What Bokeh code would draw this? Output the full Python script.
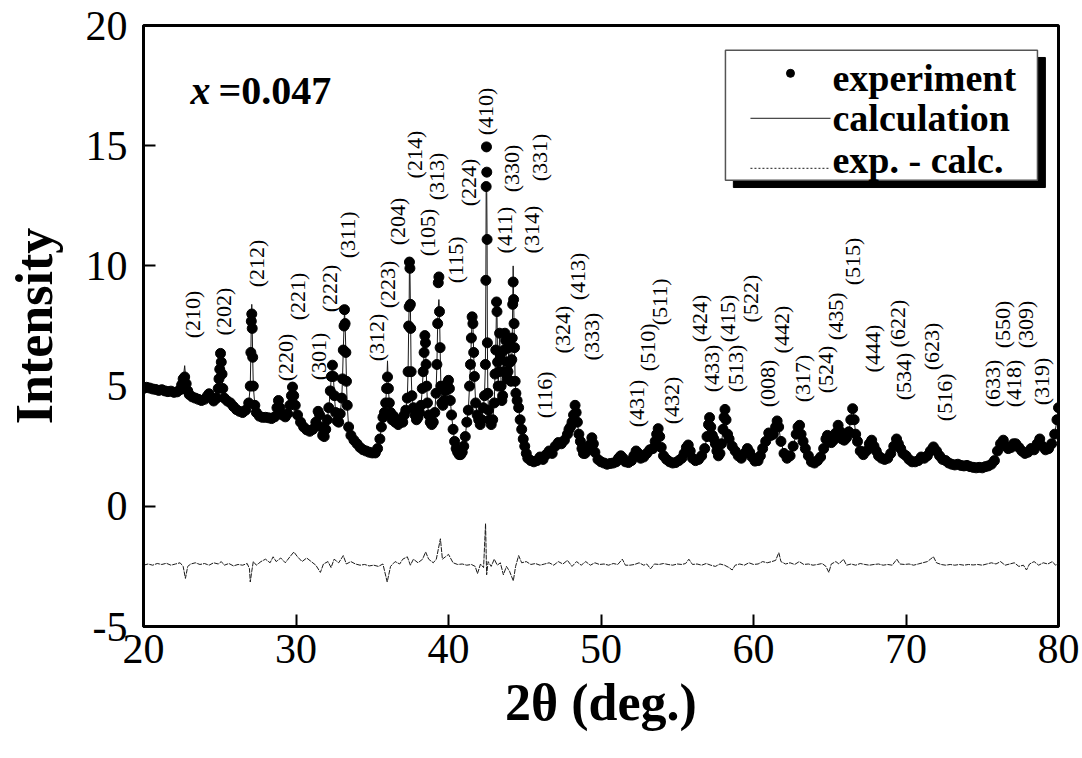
import numpy as np
from bokeh.plotting import figure
from bokeh.models import Range1d, FixedTicker, Label
from bokeh.core.properties import value
from bokeh.embed import file_html
from bokeh.resources import INLINE

# ---------------- data ----------------
# experimental pattern: (2theta, intensity)
exp_points = [
    (20.0, 4.90), (20.2, 4.95), (20.4, 4.92), (20.6, 4.88), (20.8, 4.86), (21.0, 4.82),
    (21.2, 4.85), (21.4, 4.80), (21.6, 4.77), (21.8, 4.79), (22.0, 4.74), (22.2, 4.76),
    (22.4, 4.85), (22.5, 5.05), (22.6, 5.30), (22.7, 5.38), (22.8, 5.10), (22.9, 4.80),
    (23.0, 4.65), (23.2, 4.55), (23.4, 4.50), (23.6, 4.45), (23.8, 4.40), (24.0, 4.45),
    (24.2, 4.60), (24.3, 4.68), (24.4, 4.55), (24.6, 4.38), (24.8, 4.50), (24.9, 4.90),
    (24.95, 5.30), (25.0, 5.70), (25.05, 6.36), (25.1, 6.00), (25.15, 5.50), (25.2, 4.90),
    (25.3, 4.50), (25.5, 4.38), (25.7, 4.30), (25.9, 4.15), (26.1, 4.02), (26.3, 3.95),
    (26.5, 3.90), (26.7, 4.00), (26.9, 4.30), (27.0, 5.00), (27.04, 6.40), (27.07, 7.70),
    (27.1, 8.00), (27.13, 7.40), (27.16, 6.20), (27.2, 5.00), (27.3, 4.20), (27.4, 3.90),
    (27.6, 3.75), (27.8, 3.70), (28.0, 3.70), (28.2, 3.68), (28.4, 3.65), (28.6, 3.72),
    (28.75, 4.10), (28.85, 4.40), (28.95, 4.10), (29.1, 3.80), (29.3, 3.72), (29.45, 3.85),
    (29.6, 4.20), (29.7, 4.60), (29.77, 4.96), (29.85, 4.60), (29.95, 4.20), (30.1, 3.80),
    (30.3, 3.50), (30.5, 3.30), (30.7, 3.18), (30.9, 3.12), (31.1, 3.20), (31.3, 3.50),
    (31.45, 3.95), (31.55, 3.80), (31.65, 3.30), (31.75, 2.95), (31.85, 2.90), (31.95, 3.20),
    (32.05, 3.60), (32.15, 4.10), (32.25, 4.80), (32.32, 5.40), (32.39, 5.87), (32.45, 5.40),
    (32.52, 4.60), (32.6, 3.90), (32.7, 3.55), (32.8, 3.50), (32.9, 3.85), (33.0, 4.50),
    (33.05, 5.30), (33.1, 6.50), (33.15, 7.50), (33.18, 8.18), (33.22, 7.60), (33.27, 6.40),
    (33.31, 5.20), (33.36, 4.20), (33.45, 3.30), (33.6, 2.95), (33.8, 2.75), (34.0, 2.60),
    (34.2, 2.45), (34.4, 2.35), (34.6, 2.30), (34.8, 2.25), (35.0, 2.22), (35.2, 2.22),
    (35.35, 2.40), (35.5, 2.80), (35.6, 3.30), (35.7, 3.70), (35.8, 3.90), (35.88, 4.30),
    (35.94, 4.90), (36.0, 5.38), (36.06, 4.90), (36.12, 4.30), (36.2, 3.90), (36.3, 3.60),
    (36.4, 3.75), (36.5, 3.50), (36.6, 3.60), (36.7, 3.40), (36.8, 3.50), (36.9, 3.60),
    (37.0, 3.50), (37.1, 3.80), (37.2, 4.00), (37.3, 4.50), (37.35, 5.60), (37.39, 7.50),
    (37.42, 8.30), (37.44, 10.16), (37.47, 9.90), (37.5, 8.40), (37.52, 7.40), (37.55, 5.60),
    (37.6, 4.60), (37.7, 4.10), (37.8, 3.80), (37.9, 3.60), (38.0, 3.70), (38.1, 3.90),
    (38.2, 4.20), (38.28, 4.90), (38.34, 5.60), (38.4, 6.40), (38.45, 7.10), (38.49, 6.80),
    (38.53, 5.90), (38.57, 5.00), (38.62, 4.30), (38.7, 3.80), (38.8, 3.50), (38.9, 3.40),
    (39.0, 3.50), (39.1, 3.90), (39.18, 4.70), (39.24, 5.90), (39.29, 7.60), (39.33, 9.30),
    (39.37, 9.54), (39.41, 8.10), (39.45, 6.60), (39.5, 5.00), (39.56, 4.30), (39.63, 4.20),
    (39.7, 4.40), (39.8, 4.80), (39.9, 5.10), (40.0, 5.24), (40.06, 4.90), (40.12, 4.40),
    (40.2, 3.80), (40.3, 3.20), (40.4, 2.70), (40.5, 2.40), (40.6, 2.25), (40.7, 2.15),
    (40.8, 2.15), (40.9, 2.25), (41.0, 2.50), (41.1, 2.90), (41.2, 3.50), (41.3, 4.00),
    (41.38, 5.00), (41.44, 5.90), (41.5, 7.00), (41.55, 7.88), (41.6, 7.60), (41.65, 6.40),
    (41.7, 5.40), (41.78, 4.30), (41.88, 3.80), (41.98, 3.60), (42.08, 3.40), (42.18, 3.60),
    (42.28, 4.10), (42.36, 4.60), (42.42, 5.90), (42.45, 9.40), (42.47, 13.30), (42.49, 14.95),
    (42.51, 13.90), (42.53, 11.10), (42.55, 6.80), (42.58, 4.70), (42.62, 4.00), (42.7, 3.60),
    (42.8, 3.40), (42.9, 3.60), (43.0, 4.30), (43.05, 5.50), (43.1, 6.50), (43.15, 8.50),
    (43.18, 8.10), (43.22, 6.00), (43.26, 5.00), (43.3, 5.60), (43.35, 7.20), (43.4, 6.30),
    (43.45, 5.00), (43.5, 4.40), (43.55, 4.60), (43.6, 5.60), (43.65, 6.50), (43.7, 7.20),
    (43.75, 6.90), (43.8, 6.00), (43.85, 5.30), (43.9, 5.60), (43.95, 6.60), (44.0, 6.70),
    (44.05, 6.00), (44.1, 5.20), (44.15, 6.10), (44.18, 7.00), (44.21, 8.40), (44.24, 9.33),
    (44.27, 8.60), (44.3, 7.60), (44.33, 6.60), (44.37, 5.20), (44.42, 4.70), (44.5, 4.40),
    (44.6, 4.10), (44.7, 3.60), (44.8, 3.20), (44.9, 2.80), (45.0, 2.50), (45.1, 2.20),
    (45.2, 2.00), (45.4, 1.90), (45.6, 1.85), (45.8, 1.90), (46.0, 2.05), (46.2, 1.95),
    (46.4, 2.15), (46.6, 2.30), (46.8, 2.20), (47.0, 2.50), (47.2, 2.65), (47.4, 2.60),
    (47.6, 2.75), (47.8, 3.00), (47.9, 3.20), (48.0, 3.30), (48.1, 3.50), (48.2, 3.80),
    (48.3, 4.20), (48.37, 3.90), (48.45, 3.50), (48.55, 3.00), (48.65, 2.70), (48.75, 2.40),
    (48.85, 2.20), (48.95, 2.20), (49.1, 2.35), (49.25, 2.55), (49.4, 2.85), (49.5, 2.60),
    (49.6, 2.25), (49.8, 1.95), (50.0, 1.85), (50.2, 1.80), (50.4, 1.75), (50.6, 1.78),
    (50.8, 1.80), (51.0, 1.85), (51.15, 2.00), (51.3, 2.10), (51.45, 2.00), (51.6, 1.85),
    (51.8, 1.82), (52.0, 1.90), (52.15, 2.10), (52.3, 2.30), (52.45, 2.20), (52.6, 2.00),
    (52.8, 2.05), (53.0, 2.20), (53.2, 2.35), (53.4, 2.40), (53.55, 2.70), (53.65, 3.00),
    (53.75, 3.23), (53.85, 2.90), (53.95, 2.45), (54.1, 2.10), (54.3, 1.95), (54.5, 1.85),
    (54.7, 1.80), (54.9, 1.82), (55.1, 1.90), (55.3, 2.00), (55.45, 2.20), (55.6, 2.45),
    (55.72, 2.55), (55.85, 2.30), (56.0, 2.00), (56.2, 1.90), (56.4, 1.95), (56.6, 2.10),
    (56.8, 2.40), (56.95, 2.90), (57.05, 3.40), (57.12, 3.69), (57.2, 3.30), (57.3, 2.95),
    (57.4, 2.80), (57.5, 2.60), (57.6, 2.30), (57.7, 2.10), (57.8, 2.20), (57.9, 2.60),
    (58.0, 3.20), (58.07, 3.70), (58.13, 4.03), (58.2, 3.60), (58.3, 3.00), (58.4, 2.80),
    (58.6, 2.50), (58.8, 2.30), (59.0, 2.10), (59.2, 2.00), (59.4, 2.20), (59.6, 2.40),
    (59.75, 2.25), (59.9, 2.05), (60.1, 1.88), (60.3, 1.90), (60.45, 2.10), (60.6, 2.40),
    (60.8, 2.70), (61.0, 3.05), (61.15, 2.95), (61.3, 3.00), (61.45, 3.30), (61.55, 3.55),
    (61.65, 3.30), (61.8, 2.70), (62.0, 2.20), (62.2, 2.00), (62.4, 2.10), (62.6, 2.50),
    (62.8, 3.00), (62.92, 3.30), (63.02, 3.37), (63.12, 3.00), (63.25, 2.70), (63.4, 2.40),
    (63.6, 2.10), (63.8, 1.85), (64.0, 1.80), (64.2, 1.90), (64.4, 2.05), (64.6, 2.40),
    (64.75, 2.80), (64.85, 2.95), (64.95, 2.80), (65.1, 2.65), (65.25, 2.75), (65.4, 3.05),
    (65.55, 3.37), (65.7, 3.10), (65.8, 2.80), (65.95, 2.75), (66.1, 2.85), (66.25, 3.10),
    (66.38, 3.60), (66.5, 4.06), (66.6, 3.60), (66.7, 3.00), (66.82, 2.70), (67.0, 2.30),
    (67.2, 2.15), (67.4, 2.30), (67.6, 2.60), (67.75, 2.75), (67.9, 2.50), (68.05, 2.30),
    (68.2, 2.10), (68.4, 2.00), (68.6, 1.95), (68.8, 2.00), (69.0, 2.20), (69.2, 2.50),
    (69.38, 2.80), (69.5, 2.60), (69.65, 2.40), (69.8, 2.20), (70.0, 2.10), (70.2, 1.95),
    (70.4, 1.85), (70.6, 1.85), (70.8, 1.90), (71.0, 2.05), (71.2, 2.00), (71.4, 2.10),
    (71.6, 2.30), (71.8, 2.47), (72.0, 2.30), (72.2, 2.10), (72.4, 1.95), (72.6, 1.90),
    (72.8, 1.80), (73.0, 1.75), (73.2, 1.72), (73.4, 1.75), (73.6, 1.70), (73.8, 1.68),
    (74.0, 1.70), (74.2, 1.65), (74.4, 1.62), (74.6, 1.60), (74.8, 1.62), (75.0, 1.60),
    (75.2, 1.65), (75.4, 1.68), (75.6, 1.75), (75.8, 1.90), (76.0, 2.30), (76.2, 2.60),
    (76.38, 2.75), (76.55, 2.50), (76.7, 2.40), (76.9, 2.45), (77.05, 2.60), (77.2, 2.60),
    (77.4, 2.45), (77.6, 2.30), (77.8, 2.20), (78.0, 2.25), (78.2, 2.40), (78.4, 2.35),
    (78.6, 2.60), (78.77, 2.80), (78.95, 2.50), (79.15, 2.35), (79.35, 2.40), (79.55, 2.60),
    (79.75, 3.00), (79.9, 3.60), (80.0, 4.10),
]

# calculated profile: follows the data except at these peak tops
calc_tips = [(22.7, 5.85), (27.1, 8.40), (36.0, 6.05), (39.33, 8.30), (39.37, 8.60),
             (42.49, 13.30), (42.51, 13.00), (44.24, 10.00)]

# difference curve (exp. - calc., offset)
diff_points = [
    (20.0, -2.45), (20.3, -2.40), (20.6, -2.45), (20.9, -2.38), (21.2, -2.42), (21.5, -2.37),
    (21.8, -2.45), (22.1, -2.40), (22.4, -2.35), (22.6, -2.50), (22.75, -3.00), (22.9, -2.50),
    (23.1, -2.40), (23.4, -2.35), (23.7, -2.42), (24.0, -2.38), (24.3, -2.45), (24.6, -2.35),
    (24.9, -2.40), (25.1, -2.30), (25.3, -2.45), (25.6, -2.38), (25.9, -2.48), (26.2, -2.42),
    (26.5, -2.45), (26.8, -2.38), (26.95, -2.60), (27.0, -3.15), (27.1, -2.70), (27.2, -2.30),
    (27.4, -2.45), (27.7, -2.30), (28.0, -2.20), (28.3, -2.35), (28.5, -2.10), (28.7, -2.30),
    (29.0, -2.15), (29.3, -2.35), (29.6, -2.10), (29.86, -1.90), (30.1, -2.10), (30.4, -2.30),
    (30.7, -2.15), (31.0, -2.30), (31.3, -2.45), (31.6, -2.75), (31.8, -2.40), (32.1, -2.30),
    (32.3, -2.55), (32.5, -2.20), (32.8, -2.35), (33.1, -2.05), (33.3, -2.40), (33.6, -2.30),
    (33.9, -2.40), (34.2, -2.45), (34.5, -2.42), (34.8, -2.48), (35.1, -2.45), (35.4, -2.50),
    (35.7, -2.40), (35.98, -3.15), (36.2, -2.50), (36.5, -2.30), (36.8, -2.40), (37.0, -2.20),
    (37.3, -2.10), (37.5, -2.45), (37.7, -2.20), (38.0, -2.35), (38.3, -2.20), (38.5, -1.90),
    (38.7, -2.20), (39.0, -2.35), (39.2, -2.20), (39.47, -1.35), (39.6, -2.20), (39.8, -2.10),
    (40.0, -2.00), (40.3, -2.35), (40.6, -2.42), (40.9, -2.40), (41.2, -2.45), (41.5, -2.42),
    (41.75, -2.50), (41.9, -2.80), (42.1, -2.40), (42.3, -2.55), (42.43, -0.72), (42.5, -2.85),
    (42.6, -2.30), (42.8, -2.50), (43.0, -2.20), (43.2, -2.45), (43.4, -2.35), (43.6, -2.85),
    (43.8, -2.50), (44.0, -2.70), (44.25, -3.10), (44.4, -2.50), (44.6, -2.05), (44.8, -2.35),
    (45.1, -2.30), (45.4, -2.42), (45.7, -2.38), (46.0, -2.45), (46.3, -2.40), (46.6, -2.35),
    (46.9, -2.45), (47.2, -2.30), (47.5, -2.40), (47.8, -2.25), (48.1, -2.50), (48.4, -2.30),
    (48.7, -2.45), (49.0, -2.30), (49.3, -2.45), (49.6, -2.35), (49.9, -2.42), (50.2, -2.40),
    (50.5, -2.45), (50.8, -2.38), (51.1, -2.42), (51.4, -2.20), (51.6, -2.45), (51.9, -2.45),
    (52.2, -2.42), (52.5, -2.35), (52.8, -2.45), (53.0, -2.40), (53.25, -2.60), (53.5, -2.40),
    (53.8, -2.42), (54.1, -2.38), (54.4, -2.42), (54.7, -2.45), (55.0, -2.40), (55.3, -2.42),
    (55.55, -2.38), (55.76, -2.20), (56.0, -2.42), (56.3, -2.40), (56.6, -2.45), (56.9, -2.38),
    (57.2, -2.45), (57.5, -2.50), (57.8, -2.40), (58.1, -2.45), (58.4, -2.55), (58.6, -2.65),
    (58.8, -2.45), (59.1, -2.40), (59.4, -2.45), (59.7, -2.35), (60.0, -2.42), (60.3, -2.40),
    (60.6, -2.30), (60.9, -2.35), (61.2, -2.30), (61.45, -2.25), (61.66, -1.93), (61.8, -2.30),
    (62.1, -2.40), (62.4, -2.35), (62.7, -2.42), (63.0, -2.30), (63.3, -2.42), (63.6, -2.40),
    (63.9, -2.45), (64.2, -2.42), (64.5, -2.38), (64.75, -2.50), (64.94, -2.75), (65.1, -2.40),
    (65.4, -2.30), (65.6, -2.40), (65.9, -2.20), (66.1, -2.45), (66.4, -2.40), (66.7, -2.45),
    (67.0, -2.38), (67.3, -2.42), (67.6, -2.45), (67.9, -2.42), (68.2, -2.40), (68.5, -2.45),
    (68.8, -2.42), (69.1, -2.45), (69.4, -2.20), (69.6, -2.40), (69.9, -2.42), (70.2, -2.40),
    (70.5, -2.45), (70.8, -2.40), (71.1, -2.35), (71.4, -2.30), (71.6, -2.20), (71.8, -2.10),
    (72.0, -2.35), (72.3, -2.42), (72.6, -2.45), (72.9, -2.42), (73.2, -2.45), (73.5, -2.42),
    (73.8, -2.45), (74.1, -2.42), (74.4, -2.44), (74.7, -2.42), (75.0, -2.45), (75.3, -2.40),
    (75.6, -2.35), (75.9, -2.40), (76.2, -2.30), (76.5, -2.45), (76.8, -2.40), (77.1, -2.35),
    (77.4, -2.50), (77.7, -2.45), (77.9, -2.65), (78.1, -2.40), (78.4, -2.30), (78.7, -2.45),
    (79.0, -2.35), (79.3, -2.40), (79.6, -2.30), (79.8, -2.45), (80.0, -2.38),
]

# Miller-index annotations: text, 2theta, intensity at start of the (vertical) text
hkl_text = ["(210)", "(202)", "(212)", "(220)", "(221)", "(301)", "(222)", "(311)",
            "(312)", "(223)", "(204)", "(214)", "(105)", "(313)", "(115)", "(224)",
            "(410)", "(411)", "(330)", "(314)", "(331)", "(116)", "(324)", "(413)",
            "(333)", "(431)", "(510)", "(511)", "(432)", "(424)", "(433)", "(415)",
            "(513)", "(522)", "(008)", "(442)", "(317)", "(524)", "(435)", "(515)",
            "(444)", "(622)", "(534)", "(623)", "(516)", "(633)", "(550)", "(418)",
            "(309)", "(319)"]
hkl_tth = [23.21, 25.25, 27.38, 29.31, 30.10, 31.48, 32.20, 33.38,
           35.28, 36.00, 36.64, 37.77, 38.62, 39.19, 40.46, 41.31,
           42.43, 43.67, 44.13, 45.44, 45.97, 46.30, 47.48, 48.46,
           49.38, 52.33, 53.05, 53.84, 54.62, 56.46, 57.25, 58.30,
           58.82, 59.80, 60.92, 61.84, 63.21, 64.72, 65.38, 66.49,
           67.80, 69.44, 69.84, 71.67, 72.52, 75.67, 76.33, 77.05,
           77.84, 78.89]
hkl_y = [6.99, 7.11, 9.11, 5.20, 7.74, 5.24, 8.07, 10.32,
         6.03, 8.24, 10.86, 13.64, 10.40, 12.73, 9.28, 12.48,
         15.43, 10.52, 13.06, 10.52, 13.52, 3.66, 6.36, 8.57,
         6.07, 3.29, 5.62, 7.53, 3.41, 6.82, 4.74, 6.82,
         4.74, 7.65, 4.12, 6.36, 4.33, 4.70, 6.91, 9.19,
         5.57, 6.61, 4.41, 5.66, 3.54, 4.12, 6.57, 4.12,
         6.57, 4.20]

x_ticks = [20, 30, 40, 50, 60, 70, 80]
y_ticks = [-5, 0, 5, 10, 15, 20]
y_tick_text = {-5: "-5"}

# ---------------- build series ----------------
tth = [t for t, _ in exp_points]
i_exp = [v for _, v in exp_points]
i_calc = list(i_exp)
for t, v in calc_tips:
    k = int(np.argmin([abs(x - t) for x in tth]))
    i_calc[k] = v
diff_tth = [t for t, _ in diff_points]
diff_val = [v for _, v in diff_points]

SERIF = "Liberation Serif"

p = figure(frame_width=915, frame_height=601,
           x_range=Range1d(20, 80), y_range=Range1d(-5, 20),
           output_backend="svg", toolbar_location=None,
           min_border_left=143, min_border_right=24,
           min_border_top=25, min_border_bottom=132,
           x_axis_label="2θ (deg.)", y_axis_label="Intensity")
p.grid.visible = False
p.outline_line_color = "black"
p.outline_line_width = 3
p.background_fill_color = "white"
p.border_fill_color = "white"

p.xaxis.ticker = FixedTicker(ticks=x_ticks)
p.yaxis.ticker = FixedTicker(ticks=y_ticks)
p.yaxis.major_label_overrides = y_tick_text
for ax in (p.xaxis[0], p.yaxis[0]):
    ax.axis_line_width = 3
    ax.axis_line_color = "black"
    ax.major_tick_in = 12
    ax.major_tick_out = 0
    ax.major_tick_line_width = 2
    ax.minor_tick_line_color = None
    ax.major_label_text_font = SERIF
    ax.major_label_text_font_size = "42px"
    ax.major_label_text_color = "black"
    ax.axis_label_text_font = SERIF
    ax.axis_label_text_font_style = "bold"
    ax.axis_label_text_font_size = "52px"
    ax.axis_label_text_color = "black"
p.xaxis[0].major_label_standoff = 8
p.xaxis[0].axis_label_standoff = 8
p.yaxis[0].major_label_standoff = 16
p.yaxis[0].axis_label_standoff = 20

# data
r_calc = p.line(tth, i_calc, line_color="#1a1a1a", line_width=1)
r_exp = p.scatter(tth, i_exp, size=10, marker="circle", fill_color="black", line_color="black")
r_diff = p.line(diff_tth, diff_val, line_color="#1a1a1a", line_width=1, line_dash="5 1")

# Miller indices
p.text(x=hkl_tth, y=hkl_y, text=hkl_text, angle=np.pi / 2,
       text_align="left", text_baseline="middle",
       text_font=value(SERIF), text_font_size=value("22px"), text_color="black")

# composition label
COMP_Y = 17.30
p.add_layout(Label(x=23.08, y=COMP_Y, text="x", text_font=SERIF, text_font_size="40px",
                   text_font_style="bold italic", text_baseline="alphabetic", text_color="black"))
p.add_layout(Label(x=24.92, y=COMP_Y, text="=0.047", text_font=SERIF, text_font_size="40px",
                   text_font_style="bold", text_baseline="alphabetic", text_color="black"))

# ---------------- legend (box with drop shadow) ----------------
LEG_L, LEG_R, LEG_T, LEG_B = 58.16, 78.62, 18.97, 13.56
SH_DX, SH_DY = 0.52, 0.30
p.quad(left=[LEG_L + SH_DX], right=[LEG_R + SH_DX], top=[LEG_T - SH_DY], bottom=[LEG_B - SH_DY],
       fill_color="black", line_color="black")
p.quad(left=[LEG_L], right=[LEG_R], top=[LEG_T], bottom=[LEG_B],
       fill_color="white", line_color="#555555", line_width=1.5)
SAMPLE_X0, SAMPLE_X1 = 59.80, 65.05
p.scatter(x=[(SAMPLE_X0 + SAMPLE_X1) / 2], y=[18.01], size=8, marker="circle",
          fill_color="black", line_color="black")
p.line(x=[SAMPLE_X0, SAMPLE_X1], y=[16.14, 16.14], line_color="#1a1a1a", line_width=1)
p.line(x=[SAMPLE_X0, SAMPLE_X1], y=[14.06, 14.06], line_color="#1a1a1a", line_width=1,
       line_dash="2 2")
for txt, yb in (("experiment", 17.83), ("calculation", 16.16), ("exp. - calc.", 14.42)):
    p.add_layout(Label(x=65.18, y=yb, text=txt, text_font=SERIF, text_font_size="38px",
                       text_font_style="bold", text_baseline="alphabetic", text_color="black"))

open("out.html", "w").write(file_html(p, INLINE))
